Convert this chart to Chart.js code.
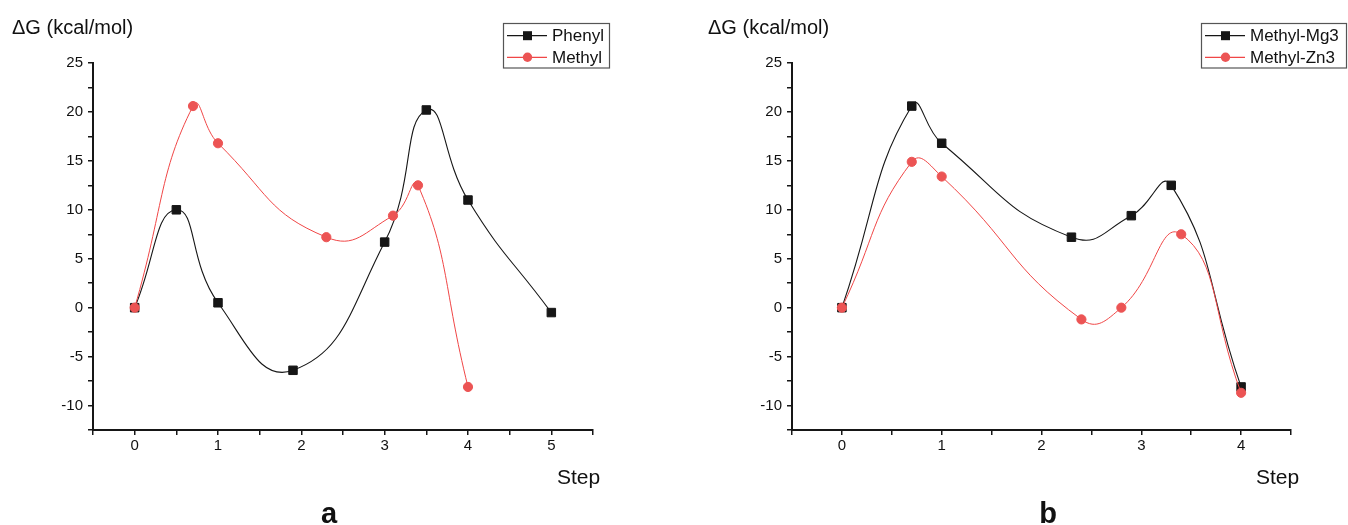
<!DOCTYPE html>
<html>
<head>
<meta charset="utf-8">
<script src="https://cdn.jsdelivr.net/npm/chart.js@4/dist/chart.umd.min.js"></script>
<style>
  html, body { margin: 0; padding: 0; background: #fff; }
  #wrap { position: relative; width: 1348px; height: 525px; overflow: hidden; }
  canvas { position: absolute; top: 0; }
</style>
</head>
<body>
<div id="wrap">
  <canvas id="ca" width="674" height="525" style="left:0"></canvas>
  <canvas id="cb" width="674" height="525" style="left:674px"></canvas>
</div>
<script>
// ---- data ----
const phenylX = [0, 0.5, 1, 1.9, 3, 3.5, 4, 5];
const phenylY = [0, 10, 0.5, -6.4, 6.7, 20.2, 11, -0.5];
const methylX = [0, 0.7, 1, 2.3, 3.1, 3.4, 4];
const methylY = [0, 20.6, 16.8, 7.2, 9.4, 12.5, -8.1];

const mg3X = [0, 0.7, 1, 2.3, 2.9, 3.3, 4];
const mg3Y = [0, 20.6, 16.8, 7.2, 9.4, 12.5, -8.1];
const zn3X = [0, 0.7, 1, 2.4, 2.8, 3.4, 4];
const zn3Y = [0, 14.9, 13.4, -1.2, 0, 7.5, -8.7];

const yTickLabels = [-10, -5, 0, 5, 10, 15, 20, 25];
const xTickLabelsA = [0, 1, 2, 3, 4, 5];
const xTickLabelsB = [0, 1, 2, 3, 4];

const seriesNamesA = ['Phenyl', 'Methyl'];
const seriesNamesB = ['Methyl-Mg3', 'Methyl-Zn3'];

// ---- styling ----
const FONT = "'Liberation Sans', Arial, sans-serif";
const BLACK = '#161616';
const RED_LINE = 'rgb(240,70,70)';
const RED_PT = 'rgb(236,84,84)';
const TENSION = 0.5;

function pts(xs, ys) { return xs.map((x, i) => ({ x: x, y: ys[i] })); }

function blackSet(label, xs, ys) {
  return {
    label, data: pts(xs, ys), order: 1,
    borderColor: BLACK, borderWidth: 1.1, tension: TENSION,
    pointStyle: 'rect', pointRadius: 6, pointHoverRadius: 6,
    pointBackgroundColor: BLACK, pointBorderColor: BLACK, pointBorderWidth: 1,
    fill: false
  };
}
function redSet(label, xs, ys) {
  return {
    label, data: pts(xs, ys), order: 0,
    borderColor: RED_LINE, borderWidth: 1, tension: TENSION,
    pointStyle: 'circle', pointRadius: 4.6, pointHoverRadius: 4.6,
    pointBackgroundColor: RED_PT, pointBorderColor: RED_PT, pointBorderWidth: 1,
    fill: false
  };
}

const decorPlugin = {
  id: 'decor',
  afterDraw(chart, args, o) {
    const ctx = chart.ctx;
    ctx.save();
    ctx.fillStyle = '#111';
    ctx.textBaseline = 'alphabetic';
    ctx.font = '20px ' + FONT;
    ctx.textAlign = 'left';
    ctx.fillText('\u0394G (kcal/mol)', o.yTitleX, 34);
    ctx.font = '21px ' + FONT;
    ctx.fillText('Step', o.stepX, 484);
    ctx.font = 'bold 29px ' + FONT;
    ctx.textAlign = 'center';
    ctx.fillText(o.letter, o.letterX, 523);
    const L = o.legend;
    ctx.strokeStyle = '#555';
    ctx.lineWidth = 1.2;
    ctx.strokeRect(L.x + 0.5, 23.5, L.w, 44.5);
    const rows = [35.7, 57.3];
    chart.data.datasets.forEach((ds, i) => {
      const y = rows[i];
      ctx.strokeStyle = ds.borderColor;
      ctx.lineWidth = 1.2;
      ctx.beginPath();
      ctx.moveTo(L.x + 4, y);
      ctx.lineTo(L.x + 44, y);
      ctx.stroke();
      ctx.fillStyle = ds.pointBackgroundColor;
      if (ds.pointStyle === 'rect') {
        ctx.fillRect(L.x + 24.5 - 4.5, y - 4.5, 9, 9);
      } else {
        ctx.beginPath();
        ctx.arc(L.x + 24.5, y, 4.7, 0, Math.PI * 2);
        ctx.fill();
      }
      ctx.fillStyle = '#111';
      ctx.font = '17px ' + FONT;
      ctx.textAlign = 'left';
      ctx.textBaseline = 'middle';
      ctx.fillText(ds.label, L.x + 49, y + 1);
    });
    ctx.restore();
  }
};

function makeChart(id, datasets, xMax, xLabels, padLeft, yWidth, padRight, decor) {
  return new Chart(document.getElementById(id), {
    type: 'line',
    data: { datasets },
    plugins: [decorPlugin],
    options: {
      responsive: false,
      animation: false,
      devicePixelRatio: 1,
      layout: { padding: { top: 63, bottom: 55, left: padLeft, right: padRight } },
      plugins: { legend: { display: false }, tooltip: { enabled: false }, decor },
      scales: {
        x: {
          type: 'linear', min: -0.5, max: xMax,
          ticks: {
            stepSize: 0.5, autoSkip: false, maxRotation: 0, minRotation: 0,
            color: '#111', padding: 2,
            font: { family: FONT, size: 15 },
            callback: v => xLabels.includes(v) ? String(v) : ''
          },
          grid: { drawOnChartArea: false, drawTicks: true, tickLength: 5, color: BLACK, lineWidth: 1.5 },
          border: { display: true, color: BLACK, width: 2 },
          afterFit: s => { s.height = 40; s.paddingLeft = 0; s.paddingRight = 0; }
        },
        y: {
          type: 'linear', min: -12.5, max: 25,
          ticks: {
            stepSize: 2.5, autoSkip: false, color: '#111', padding: 5,
            font: { family: FONT, size: 15 },
            callback: v => yTickLabels.includes(v) ? String(v) : ''
          },
          grid: { drawOnChartArea: false, drawTicks: true, tickLength: 5, color: BLACK, lineWidth: 1.5 },
          border: { display: true, color: BLACK, width: 2 },
          afterFit: s => { s.width = yWidth; s.paddingTop = 0; s.paddingBottom = 0; }
        }
      }
    }
  });
}

makeChart('ca',
  [blackSet(seriesNamesA[0], phenylX, phenylY), redSet(seriesNamesA[1], methylX, methylY)],
  5.5, xTickLabelsA, 0, 93, 81,
  { yTitleX: 12, stepX: 557, letter: 'a', letterX: 329, legend: { x: 503, w: 106 } });

makeChart('cb',
  [blackSet(seriesNamesB[0], mg3X, mg3Y), redSet(seriesNamesB[1], zn3X, zn3Y)],
  4.5, xTickLabelsB, 25, 93, 57,
  { yTitleX: 34, stepX: 582, letter: 'b', letterX: 374, legend: { x: 527, w: 145 } });
</script>
</body>
</html>
